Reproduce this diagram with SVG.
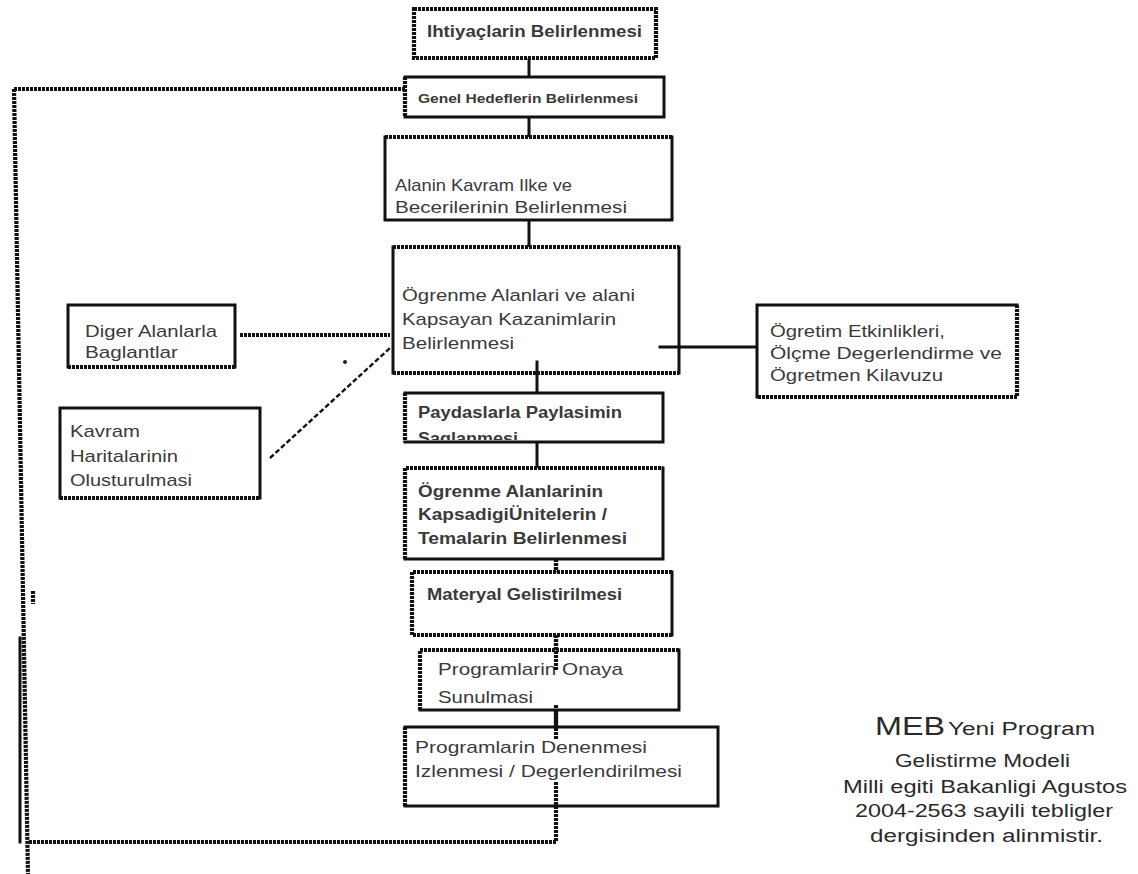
<svg xmlns="http://www.w3.org/2000/svg" width="1138" height="874" viewBox="0 0 1138 874">
  <defs>
    <style>
      .bg { fill: #ffffff; stroke: none; }
      .s { fill: none; stroke: #111; stroke-width: 3; stroke-linecap: square; }
      .d { fill: none; stroke: #111; stroke-width: 4.2; stroke-dasharray: 3 1; }
      .dash { fill: none; stroke: #111; stroke-width: 2.4; stroke-dasharray: 5 2.5; }
      .t { font-family: "Liberation Sans", Arial, sans-serif; fill: #3a3a3a; font-size: 17px; }
      .tb { font-family: "Liberation Sans", Arial, sans-serif; fill: #3a3a3a; font-weight: bold; }
    </style>
    <clipPath id="clipPay">
      <rect x="405" y="393" width="258" height="47"/>
    </clipPath>
  </defs>

  <rect width="1138" height="874" fill="#ffffff"/>

  <!-- connectors -->
  <g id="connectors">
    <path class="s" d="M529 58 V77 M529 117 V137 M529 220 V247 M537 362 V393 M537 442 V468"/>
    <path class="d" d="M556 559 V572 M556 635 V670 M556 705 V737"/>
    <!-- feedback loop back to the general goals -->
    <path class="d" d="M556 782 V842 H28"/>
    <path class="d" d="M14 89 L28 874"/>
    <path class="d" d="M14 89 H405"/>
    <path class="s" d="M20 638 V842"/>
    <path class="d" d="M33 591 V604"/>
    <!-- side links -->
    <path class="d" d="M240 335 H390"/>
    <path class="dash" d="M270 458 L390 348"/>
    <path class="s" d="M660 347 H757"/>
    <circle cx="345" cy="362" r="2" fill="#222"/>
  </g>

  <g id="n-ihtiyac">
    <rect class="bg" x="414" y="9" width="242" height="49"/>
    <path class="d" d="M414 9 H656 V58 H414 Z"/>
    <text class="tb" x="427" y="37" font-size="16" textLength="215" lengthAdjust="spacingAndGlyphs">Ihtiyaçlarin Belirlenmesi</text>
  </g>

  <g id="n-genel">
    <rect class="bg" x="405" y="77" width="259" height="40"/>
    <path class="s" d="M405 77 H664 V117 H405"/>
    <path class="d" d="M405 77 V117"/>
    <text class="tb" x="418" y="103" font-size="12.5" textLength="220" lengthAdjust="spacingAndGlyphs">Genel Hedeflerin Belirlenmesi</text>
  </g>

  <g id="n-alan">
    <rect class="bg" x="385" y="137" width="287" height="83"/>
    <path class="s" d="M385 137 V220 H672 V137"/>
    <path class="d" d="M385 137 H672"/>
    <text class="t" x="395" y="191" textLength="177" lengthAdjust="spacingAndGlyphs">Alanin Kavram Ilke ve</text>
    <text class="t" x="395" y="213" textLength="232" lengthAdjust="spacingAndGlyphs">Becerilerinin Belirlenmesi</text>
  </g>

  <g id="n-ogrenme">
    <rect class="bg" x="393" y="247" width="286" height="126"/>
    <path class="s" d="M393 247 V373 M679 247 V373"/>
    <path class="d" d="M393 247 H679 M393 373 H679"/>
    <text class="t" x="402" y="301" textLength="233" lengthAdjust="spacingAndGlyphs">Ögrenme Alanlari ve alani</text>
    <text class="t" x="402" y="325" textLength="214" lengthAdjust="spacingAndGlyphs">Kapsayan Kazanimlarin</text>
    <text class="t" x="402" y="349" textLength="112" lengthAdjust="spacingAndGlyphs">Belirlenmesi</text>
  </g>
  <path class="s" d="M537 362 V373 M660 347 H679"/>

  <g id="n-diger">
    <rect class="bg" x="68" y="305" width="167" height="62"/>
    <path class="s" d="M68 367 V305 H235 V367"/>
    <path class="d" d="M68 367 H235"/>
    <text class="t" x="85" y="337" textLength="132" lengthAdjust="spacingAndGlyphs">Diger Alanlarla</text>
    <text class="t" x="85" y="358" textLength="93" lengthAdjust="spacingAndGlyphs">Baglantlar</text>
  </g>

  <g id="n-kavram">
    <rect class="bg" x="60" y="408" width="200" height="90"/>
    <path class="s" d="M60 498 V408 H260 V498"/>
    <path class="d" d="M60 498 H260"/>
    <text class="t" x="70" y="437" textLength="70" lengthAdjust="spacingAndGlyphs">Kavram</text>
    <text class="t" x="70" y="462" textLength="108" lengthAdjust="spacingAndGlyphs">Haritalarinin</text>
    <text class="t" x="70" y="486" textLength="122" lengthAdjust="spacingAndGlyphs">Olusturulmasi</text>
  </g>

  <g id="n-ogretim">
    <rect class="bg" x="757" y="305" width="260" height="92"/>
    <path class="s" d="M757 397 V305 H1017"/>
    <path class="d" d="M1017 305 V397 H757"/>
    <text class="t" x="770" y="337" textLength="175" lengthAdjust="spacingAndGlyphs">Ögretim Etkinlikleri,</text>
    <text class="t" x="770" y="359" textLength="232" lengthAdjust="spacingAndGlyphs">Ölçme Degerlendirme ve</text>
    <text class="t" x="770" y="381" textLength="173" lengthAdjust="spacingAndGlyphs">Ögretmen Kilavuzu</text>
  </g>

  <g id="n-paydas">
    <rect class="bg" x="405" y="393" width="258" height="49"/>
    <g clip-path="url(#clipPay)">
      <text class="tb" x="418" y="418" font-size="16" textLength="204" lengthAdjust="spacingAndGlyphs">Paydaslarla Paylasimin</text>
      <text class="tb" x="418" y="444" font-size="16" textLength="100" lengthAdjust="spacingAndGlyphs">Saglanmesi</text>
    </g>
    <path class="s" d="M405 393 H663 V442 H405"/>
    <path class="d" d="M405 393 V442"/>
  </g>

  <g id="n-unite">
    <rect class="bg" x="405" y="468" width="258" height="91"/>
    <path class="s" d="M663 468 V559 H405"/>
    <path class="d" d="M405 559 V468 H663"/>
    <text class="tb" x="418" y="497" font-size="16" textLength="185" lengthAdjust="spacingAndGlyphs">Ögrenme Alanlarinin</text>
    <text class="tb" x="418" y="520" font-size="16" textLength="189" lengthAdjust="spacingAndGlyphs">KapsadigiÜnitelerin /</text>
    <text class="tb" x="418" y="544" font-size="16" textLength="209" lengthAdjust="spacingAndGlyphs">Temalarin Belirlenmesi</text>
  </g>

  <g id="n-materyal">
    <rect class="bg" x="412" y="572" width="260" height="63"/>
    <path class="s" d="M672 572 V635"/>
    <path class="d" d="M672 572 H412 V635 H672"/>
    <text class="tb" x="427" y="600" font-size="16" textLength="195" lengthAdjust="spacingAndGlyphs">Materyal Gelistirilmesi</text>
  </g>
  <path class="d" d="M556 559 V572"/>

  <g id="n-onay">
    <rect class="bg" x="420" y="650" width="259" height="60"/>
    <path class="s" d="M420 710 H679 V650"/>
    <path class="d" d="M679 650 H420 V710"/>
    <text class="t" x="438" y="675" textLength="185" lengthAdjust="spacingAndGlyphs">Programlarin Onaya</text>
    <text class="t" x="438" y="703" textLength="95" lengthAdjust="spacingAndGlyphs">Sunulmasi</text>
  </g>
  <path class="d" d="M556 635 V670 M556 705 V712"/>

  <g id="n-deneme">
    <rect class="bg" x="405" y="727" width="313" height="79"/>
    <path class="s" d="M405 727 H718 V806 H405"/>
    <path class="d" d="M405 727 V806"/>
    <text class="t" x="415" y="753" textLength="232" lengthAdjust="spacingAndGlyphs">Programlarin Denenmesi</text>
    <text class="t" x="415" y="777" textLength="267" lengthAdjust="spacingAndGlyphs">Izlenmesi / Degerlendirilmesi</text>
  </g>
  <path class="d" d="M556 712 V740 M556 782 V806"/>

  <g id="caption" font-family="'Liberation Sans', Arial, sans-serif" fill="#2a2a2a">
    <text x="875" y="735" font-size="25" textLength="70" lengthAdjust="spacingAndGlyphs">MEB</text>
    <text x="948" y="735" font-size="18" textLength="147" lengthAdjust="spacingAndGlyphs">Yeni Program</text>
    <text x="895" y="767" font-size="18" textLength="175" lengthAdjust="spacingAndGlyphs">Gelistirme Modeli</text>
    <text x="843" y="793" font-size="18" textLength="284" lengthAdjust="spacingAndGlyphs">Milli egiti Bakanligi Agustos</text>
    <text x="855" y="817" font-size="18" textLength="258" lengthAdjust="spacingAndGlyphs">2004-2563 sayili tebligler</text>
    <text x="870" y="842" font-size="18" textLength="233" lengthAdjust="spacingAndGlyphs">dergisinden alinmistir.</text>
  </g>
</svg>
